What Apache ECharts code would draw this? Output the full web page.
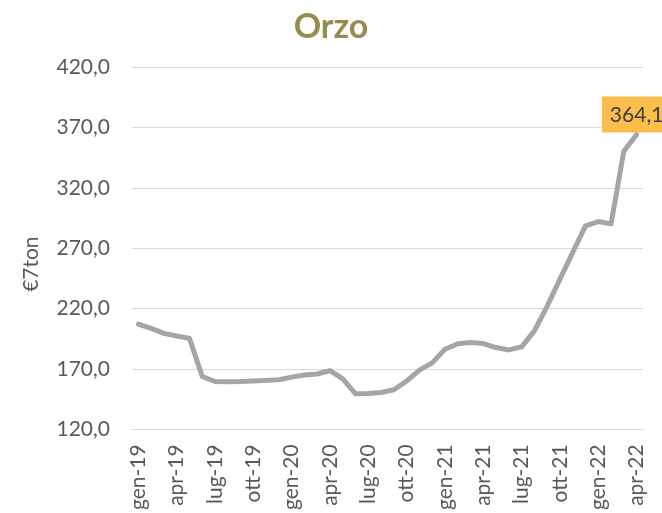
<!DOCTYPE html>
<html>
<head>
<meta charset="utf-8">
<script src="https://cdn.jsdelivr.net/npm/echarts@6/dist/echarts.min.js"></script>
<style>html,body{margin:0;padding:0;background:#fff}#c{width:662px;height:513px}</style>
</head>
<body>
<div id="c"></div>
<script>
const titleText = 'Orzo';
const yAxisName = '€7ton';
const months = ['gen','feb','mar','apr','mag','giu','lug','ago','set','ott','nov','dic'];
const years = ['19','20','21','22'];
const categories = [];
for (const y of years) for (const m of months) categories.push(m + '-' + y);
categories.length = 40; // gen-19 .. apr-22
const prices = [
  207.1, 203.5, 199.4, 197.2, 195.3, 163.7, 159.6, 159.3, 159.5, 160.0,
  160.5, 161.0, 163.2, 165.0, 165.8, 168.6, 161.7, 149.4, 149.7, 150.5,
  152.7, 160.0, 169.0, 175.0, 186.3, 190.8, 191.8, 191.0, 187.7, 185.7,
  188.2, 201.5, 222.0, 244.3, 266.5, 288.5, 292.0, 290.1, 350.3, 364.1
];
const yMin = 120, yMax = 420, yStep = 50;

const fmt = v => v.toFixed(1).replace('.', ',');
const FONT = 'Lato';

const chart = echarts.init(document.getElementById('c'));
chart.setOption({
  animation: false,
  title: {
    text: titleText, left: 'center', top: 5,
    textStyle: { fontFamily: FONT, fontSize: 34, fontWeight: 'bold', color: '#968C50' }
  },
  grid: { left: 132, right: 19, top: 67, bottom: 81 },
  xAxis: {
    type: 'category', data: categories, boundaryGap: true,
    axisLine: { lineStyle: { color: '#D9D9D9', width: 1.2 } },
    axisTick: { show: false },
    axisLabel: { interval: 2, rotate: 90, margin: 15, fontFamily: FONT, fontSize: 21, color: '#595959' }
  },
  yAxis: {
    type: 'value', min: yMin, max: yMax, interval: yStep,
    name: yAxisName, nameLocation: 'middle', nameGap: 90, nameRotate: 90,
    nameTextStyle: { fontFamily: FONT, fontSize: 21, color: '#595959', padding: [0, 32, 0, 0] },
    axisLine: { show: false }, axisTick: { show: false },
    splitLine: { lineStyle: { color: '#D9D9D9', width: 1.2 } },
    axisLabel: { margin: 22, fontFamily: FONT, fontSize: 21, color: '#595959', formatter: v => fmt(v) }
  },
  series: [{
    type: 'line', data: prices, symbol: 'none', smooth: false,
    lineStyle: { color: '#A5A5A5', width: 5, join: 'round', cap: 'round' },
    markPoint: {
      symbol: 'rect', symbolSize: 0,
      data: [{ coord: [categories.length - 1, prices[prices.length - 1]], value: prices[prices.length - 1] }],
      label: {
        show: true, position: 'top', distance: 2,
        formatter: p => fmt(p.value),
        backgroundColor: '#FBBD4B', padding: [8, 8, 7, 8],
        fontFamily: FONT, fontSize: 21, color: '#404040'
      }
    }
  }]
});
</script>
</body>
</html>
